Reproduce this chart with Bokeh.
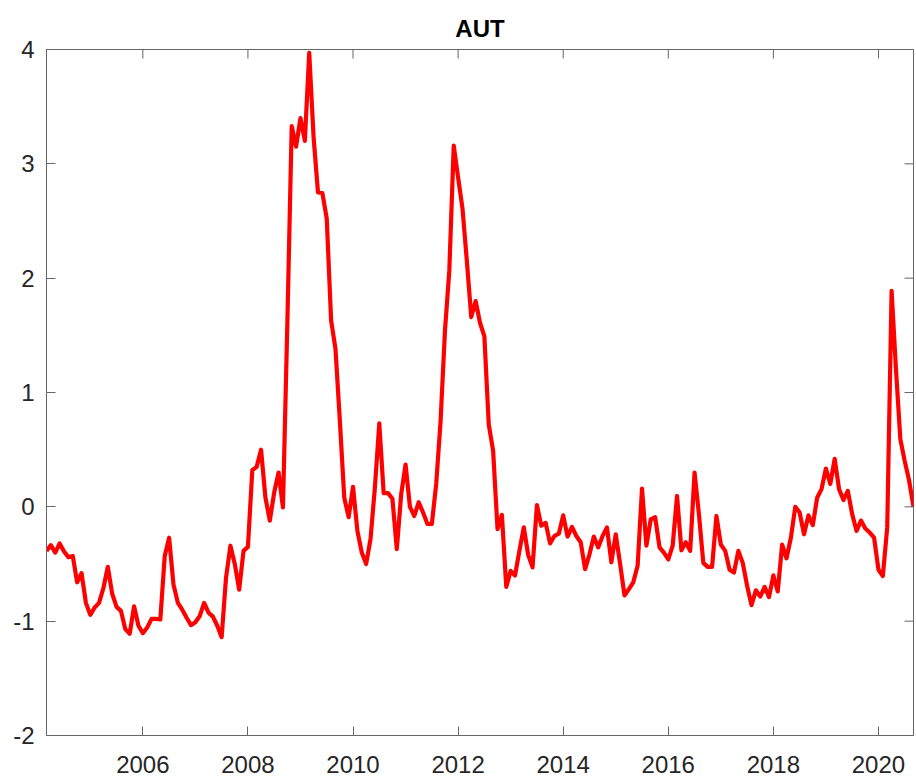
from bokeh.plotting import figure
from bokeh.models import Range1d, FixedTicker, ColumnDataSource
from bokeh.embed import file_html
from bokeh.resources import INLINE

# ---- data: monthly index, March 2004 .. September 2020 ----
start_year = 2004
start_month = 3
values_2004 = [-0.385, -0.335, -0.40, -0.32, -0.39, -0.44, -0.43, -0.66, -0.58, -0.84]
values_2005 = [-0.945, -0.88, -0.84, -0.71, -0.525, -0.76, -0.875, -0.91, -1.07, -1.11, -0.87, -1.04]
values_2006 = [-1.105, -1.055, -0.98, -0.98, -0.985, -0.43, -0.27, -0.68, -0.84, -0.90, -0.97, -1.035]
values_2007 = [-1.01, -0.955, -0.84, -0.925, -0.96, -1.04, -1.14, -0.62, -0.34, -0.50, -0.725, -0.385]
values_2008 = [-0.35, 0.32, 0.35, 0.50, 0.08, -0.12, 0.125, 0.30, -0.005, 1.6, 3.33, 3.15]
values_2009 = [3.40, 3.20, 3.97, 3.23, 2.75, 2.745, 2.52, 1.63, 1.38, 0.75, 0.08, -0.09]
values_2010 = [0.175, -0.21, -0.40, -0.50, -0.28, 0.17, 0.73, 0.12, 0.12, 0.07, -0.37, 0.11]
values_2011 = [0.37, 0.0, -0.08, 0.04, -0.05, -0.15, -0.15, 0.20, 0.75, 1.54, 2.07, 3.16]
values_2012 = [2.88, 2.61, 2.15, 1.66, 1.80, 1.61, 1.49, 0.72, 0.49, -0.195, -0.07, -0.70]
values_2013 = [-0.56, -0.60, -0.385, -0.18, -0.42, -0.53, 0.015, -0.165, -0.14, -0.32, -0.255, -0.235]
values_2014 = [-0.075, -0.26, -0.175, -0.255, -0.31, -0.545, -0.415, -0.26, -0.355, -0.255, -0.18, -0.485]
values_2015 = [-0.24, -0.50, -0.775, -0.72, -0.66, -0.515, 0.16, -0.34, -0.11, -0.09, -0.355, -0.40]
values_2016 = [-0.46, -0.34, 0.095, -0.38, -0.31, -0.385, 0.30, -0.065, -0.49, -0.525, -0.525, -0.08]
values_2017 = [-0.33, -0.385, -0.55, -0.575, -0.385, -0.49, -0.69, -0.86, -0.73, -0.785, -0.70, -0.79]
values_2018 = [-0.60, -0.74, -0.33, -0.45, -0.27, 0.0, -0.05, -0.24, -0.075, -0.16, 0.08, 0.155]
values_2019 = [0.335, 0.20, 0.42, 0.155, 0.06, 0.14, -0.065, -0.21, -0.12, -0.19, -0.225, -0.27]
values_2020 = [-0.55, -0.605, -0.18, 1.89, 1.2, 0.59, 0.40, 0.23, 0.0]

x_ticks = [2006, 2008, 2010, 2012, 2014, 2016, 2018, 2020]
y_ticks = [-2, -1, 0, 1, 2, 3, 4]
y_tick_labels = {-2: "-2", -1: "-1", 0: "0", 1: "1", 2: "2", 3: "3", 4: "4"}
title_text = "AUT"

values = (values_2004 + values_2005 + values_2006 + values_2007 + values_2008
          + values_2009 + values_2010 + values_2011 + values_2012 + values_2013
          + values_2014 + values_2015 + values_2016 + values_2017 + values_2018
          + values_2019 + values_2020)
dates = [start_year + (start_month - 1 + i) / 12.0 for i in range(len(values))]

src = ColumnDataSource(data=dict(x=dates, y=values))

FONT = "Liberation Sans"
AX = "#666666"
LBL = "#262626"

x_lo, x_hi = dates[0], dates[-1]
y_lo, y_hi = -2, 4

p = figure(width=915, height=782, output_backend="svg", toolbar_location=None,
           x_range=Range1d(x_lo, x_hi), y_range=Range1d(y_lo, y_hi),
           min_border_left=46, min_border_right=2, min_border_top=49, min_border_bottom=47)
p.background_fill_color = "white"
p.border_fill_color = "white"
p.outline_line_color = AX
p.outline_line_width = 1
p.xgrid.visible = False
p.ygrid.visible = False

p.title.text = title_text
p.title.align = "center"
p.title.text_font = FONT
p.title.text_font_size = "24px"
p.title.text_font_style = "bold"
p.title.text_color = "black"
p.title.standoff = 16

p.line("x", "y", source=src, line_color="#ff0000", line_width=4.2, line_join="round")

# inward ticks on the top and right edges of the box (clipped to the frame)
p.scatter(x=x_ticks, y=[y_hi] * len(x_ticks), marker="dash", size=18, angle=1.5708,
          line_color=AX, line_width=1)
p.scatter(x=[x_hi] * len(y_ticks), y=y_ticks, marker="dash", size=18,
          line_color=AX, line_width=1)

def style(ax):
    ax.axis_line_color = AX
    ax.axis_line_width = 1
    ax.major_tick_line_color = AX
    ax.major_tick_in = 9
    ax.major_tick_out = 0
    ax.minor_tick_line_color = None
    ax.major_label_text_font = FONT
    ax.major_label_text_color = LBL
    ax.major_label_text_font_size = "24px"

xb = p.xaxis[0]
xb.ticker = FixedTicker(ticks=x_ticks)
style(xb)
xb.major_label_standoff = 20

yl = p.yaxis[0]
yl.ticker = FixedTicker(ticks=y_ticks)
yl.major_label_overrides = y_tick_labels
style(yl)
yl.major_label_standoff = 12

open("out.html", "w").write(file_html(p, INLINE))
